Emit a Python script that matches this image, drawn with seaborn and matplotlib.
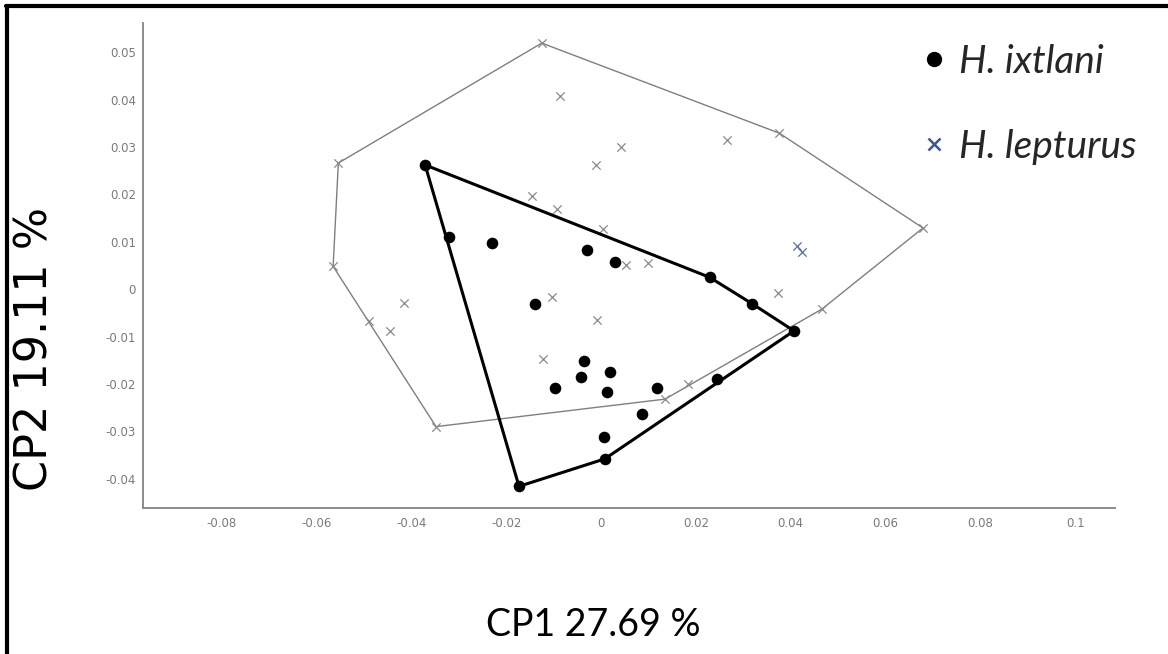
import numpy as np
import matplotlib
matplotlib.use("Agg")
import matplotlib.pyplot as plt
from matplotlib.lines import Line2D
import seaborn as sns

# H. ixtlani (black dots)
ixtlani_x = [-0.0371, -0.0321, -0.0229, -0.0030, 0.0030, 0.0229, 0.0319, 0.0407,
             0.0245, 0.0119, 0.0086, 0.0018, 0.0013, 0.0006, 0.0008, -0.0173,
             -0.0139, -0.0035, -0.0042, -0.0097]
ixtlani_y = [0.0262, 0.0111, 0.0098, 0.0083, 0.0058, 0.0025, -0.0031, -0.0088,
             -0.0190, -0.0209, -0.0264, -0.0174, -0.0218, -0.0312, -0.0358, -0.0416,
             -0.0032, -0.0151, -0.0186, -0.0209]

# H. lepturus (grey crosses)
lepturus_x = [-0.0125, -0.0086, -0.0554, -0.0011, -0.0146, -0.0092, 0.0004, -0.0565,
              0.0042, 0.0265, 0.0376, 0.0679, 0.0053, 0.0099, 0.0374, 0.0466,
              0.0184, 0.0135, -0.0415, -0.0489, -0.0445, -0.0348, -0.0104, -0.0009,
              -0.0122]
lepturus_y = [0.0519, 0.0408, 0.0266, 0.0262, 0.0197, 0.0169, 0.0127, 0.0048,
              0.0299, 0.0315, 0.0329, 0.0129, 0.0051, 0.0056, -0.0008, -0.0042,
              -0.0200, -0.0232, -0.0030, -0.0068, -0.0089, -0.0290, -0.0016, -0.0066,
              -0.0147]
# two lepturus specimens that appear in blue
lepturus_blue_x = [0.0413, 0.0423]
lepturus_blue_y = [0.0091, 0.0079]

x_ticks = [-0.08, -0.06, -0.04, -0.02, 0, 0.02, 0.04, 0.06, 0.08, 0.1]
y_ticks = [-0.04, -0.03, -0.02, -0.01, 0, 0.01, 0.02, 0.03, 0.04, 0.05]
x_label = "CP1 27.69 %"
y_label = "CP2 19.11 %"
legend_labels = ["H. ixtlani", "H. lepturus"]


def convex_hull(xs, ys):
    pts = sorted(set(zip(xs, ys)))

    def cross(o, a, b):
        return (a[0] - o[0]) * (b[1] - o[1]) - (a[1] - o[1]) * (b[0] - o[0])

    lower, upper = [], []
    for p in pts:
        while len(lower) >= 2 and cross(lower[-2], lower[-1], p) <= 0:
            lower.pop()
        lower.append(p)
    for p in reversed(pts):
        while len(upper) >= 2 and cross(upper[-2], upper[-1], p) <= 0:
            upper.pop()
        upper.append(p)
    hull = lower[:-1] + upper[:-1]
    hull.append(hull[0])
    return np.array(hull)


sns.set_style("white")
plt.rcParams["font.family"] = ["DejaVu Sans"]

fig = plt.figure(figsize=(11.68, 6.54), dpi=100)
ax = fig.add_axes([143 / 1168, 1 - 507.7 / 654, 972 / 1168, 485 / 654])

grey = "#8a8a8a"
blue = "#5a6ea8"

all_lep_x = lepturus_x + lepturus_blue_x
all_lep_y = lepturus_y + lepturus_blue_y
hull_lep = convex_hull(all_lep_x, all_lep_y)
hull_ixt = convex_hull(ixtlani_x, ixtlani_y)

ax.plot(hull_lep[:, 0], hull_lep[:, 1], color="#7f7f7f", lw=1.0, zorder=1)
sns.scatterplot(x=lepturus_x, y=lepturus_y, marker="x", s=36, color=grey,
                linewidth=0.9, ax=ax, zorder=2)
sns.scatterplot(x=lepturus_blue_x, y=lepturus_blue_y, marker="x", s=36, color=blue,
                linewidth=0.9, ax=ax, zorder=2)
ax.plot(hull_ixt[:, 0], hull_ixt[:, 1], color="black", lw=2.2, zorder=3)
sns.scatterplot(x=ixtlani_x, y=ixtlani_y, marker="o", s=70, color="black",
                edgecolor="black", linewidth=0, ax=ax, zorder=4)

ax.set_xlim(-0.0966, 0.1084)
ax.set_ylim(-0.0461, 0.0562)
ax.set_xticks(x_ticks)
ax.set_yticks(y_ticks)
ax.set_xticklabels([f"{v:g}" for v in x_ticks])
ax.set_yticklabels([f"{v:g}" for v in y_ticks])
ax.tick_params(direction="in", length=7, width=1.0, color="#8c8c8c",
               labelcolor="#7a7a7a", labelsize=8.5)
ax.tick_params(axis="x", pad=7)
ax.tick_params(axis="y", pad=5)
for side in ["top", "right"]:
    ax.spines[side].set_visible(False)
for side in ["left", "bottom"]:
    ax.spines[side].set_color("#8c8c8c")
    ax.spines[side].set_linewidth(1.4)

ax.set_xlabel(x_label, fontsize=27, family="Lato", color="black")
ax.xaxis.set_label_coords((593 - 143) / 972, (507.7 - 625) / 485)
ax.xaxis.label.set_va("center")
ax.set_ylabel(y_label, fontsize=32, family="DejaVu Sans", color="black")
ax.yaxis.set_label_coords((35 - 143) / 972, (507.7 - 349) / 485)
ax.yaxis.label.set_va("center")

handles = [
    Line2D([], [], marker="o", color="black", linestyle="none", markersize=10),
    Line2D([], [], marker="x", color="#3d5595", linestyle="none", markersize=9,
           markeredgewidth=1.8),
]
leg = ax.legend(handles, legend_labels, loc="upper left",
                bbox_to_anchor=(918 / 1168, 1 - 44 / 654),
                bbox_transform=fig.transFigure, frameon=False,
                prop={"family": "Lato", "style": "italic", "size": 28},
                handlelength=0.8, handletextpad=0.25, labelspacing=1.25,
                borderpad=0, borderaxespad=0)

# black frame on the left and top edges of the picture
fig.add_artist(Line2D([7 / 1168, 7 / 1168], [0, 1 - 6 / 654], color="black",
                      lw=3, transform=fig.transFigure))
fig.add_artist(Line2D([5.5 / 1168, 1], [1 - 6 / 654, 1 - 6 / 654], color="black",
                      lw=3, transform=fig.transFigure))

fig.savefig("out.png", dpi=100)
